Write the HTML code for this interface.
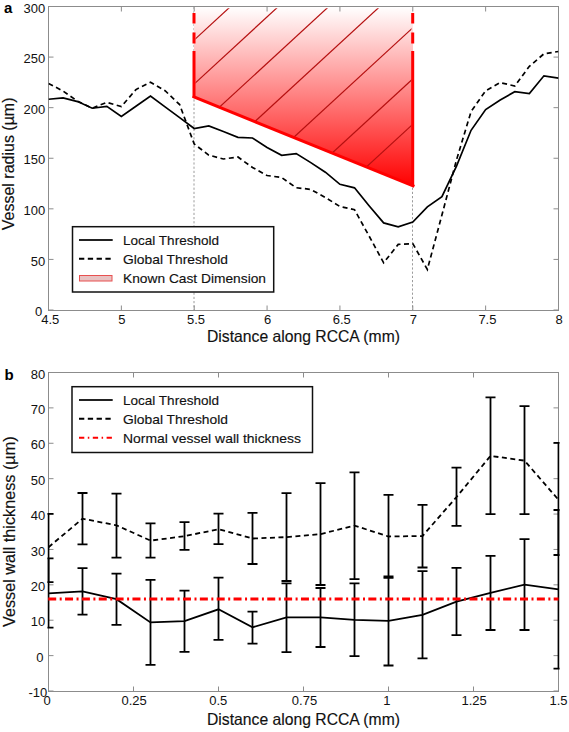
<!DOCTYPE html><html><head><meta charset="utf-8"><style>html,body{margin:0;padding:0;background:#fff;}svg{display:block;}</style></head><body>
<svg width="569" height="732" viewBox="0 0 569 732" font-family='"Liberation Sans", sans-serif'>
<defs><linearGradient id="rg" x1="0" y1="0" x2="0" y2="1" gradientUnits="objectBoundingBox"><stop offset="0" stop-color="#fff"/><stop offset="1" stop-color="#f00"/></linearGradient><clipPath id="clipA"><rect x="48.5" y="6.5" width="510.0" height="303.5"/></clipPath><clipPath id="clipB"><rect x="48.5" y="372.5" width="510.0" height="318.5"/></clipPath><clipPath id="clipE"><rect x="47.4" y="372" width="512.2" height="320"/></clipPath><clipPath id="poly"><polygon points="195.5,8.3 195.5,97 411.5,185.8 411.5,8.3"/></clipPath></defs>
<rect width="569" height="732" fill="#fff"/>
<line x1="194.0" y1="7" x2="194.0" y2="310" stroke="#9c9c9c" stroke-width="1" stroke-dasharray="2.2 2"/>
<line x1="412.5" y1="7" x2="412.5" y2="310" stroke="#9c9c9c" stroke-width="1" stroke-dasharray="2.2 2"/>
<polygon points="194,7 194,97 413,185.8 413,7" fill="url(#rg)"/>
<g clip-path="url(#poly)" stroke="#b51010" stroke-width="1.2">
<line x1="190.0" y1="43.80" x2="420.0" y2="-167.80"/>
<line x1="190.0" y1="87.80" x2="420.0" y2="-123.80"/>
<line x1="190.0" y1="134.20" x2="420.0" y2="-77.40"/>
<line x1="190.0" y1="181.20" x2="420.0" y2="-30.40"/>
<line x1="190.0" y1="232.70" x2="420.0" y2="21.10"/>
<line x1="190.0" y1="283.80" x2="420.0" y2="72.20"/>
<line x1="190.0" y1="329.20" x2="420.0" y2="117.60"/>
</g>
<line x1="194" y1="97" x2="413" y2="185.8" stroke="#f00" stroke-width="3" stroke-linecap="square"/>
<path d="M194.0 12.9V23.4M194.0 32.5V43.5M194.0 51.1V97.0" stroke="#f00" stroke-width="3"/>
<path d="M412.7 12.9V23.4M412.7 32.5V43.5M412.7 51.1V185.8" stroke="#f00" stroke-width="3"/>
<rect x="48.5" y="6.5" width="510.0" height="304.0" fill="none" stroke="#8c8c8c" stroke-width="1"/>
<line x1="48.50" y1="310.5" x2="48.50" y2="305.5" stroke="#8c8c8c"/>
<line x1="48.50" y1="6.5" x2="48.50" y2="11.5" stroke="#8c8c8c"/>
<text x="50.30" y="324" font-size="13" text-anchor="middle" fill="#111">4.5</text>
<line x1="121.36" y1="310.5" x2="121.36" y2="305.5" stroke="#8c8c8c"/>
<line x1="121.36" y1="6.5" x2="121.36" y2="11.5" stroke="#8c8c8c"/>
<text x="121.96" y="324" font-size="13" text-anchor="middle" fill="#111">5</text>
<line x1="194.21" y1="310.5" x2="194.21" y2="305.5" stroke="#8c8c8c"/>
<line x1="194.21" y1="6.5" x2="194.21" y2="11.5" stroke="#8c8c8c"/>
<text x="196.01" y="324" font-size="13" text-anchor="middle" fill="#111">5.5</text>
<line x1="267.07" y1="310.5" x2="267.07" y2="305.5" stroke="#8c8c8c"/>
<line x1="267.07" y1="6.5" x2="267.07" y2="11.5" stroke="#8c8c8c"/>
<text x="267.67" y="324" font-size="13" text-anchor="middle" fill="#111">6</text>
<line x1="339.93" y1="310.5" x2="339.93" y2="305.5" stroke="#8c8c8c"/>
<line x1="339.93" y1="6.5" x2="339.93" y2="11.5" stroke="#8c8c8c"/>
<text x="341.73" y="324" font-size="13" text-anchor="middle" fill="#111">6.5</text>
<line x1="412.79" y1="310.5" x2="412.79" y2="305.5" stroke="#8c8c8c"/>
<line x1="412.79" y1="6.5" x2="412.79" y2="11.5" stroke="#8c8c8c"/>
<text x="413.39" y="324" font-size="13" text-anchor="middle" fill="#111">7</text>
<line x1="485.64" y1="310.5" x2="485.64" y2="305.5" stroke="#8c8c8c"/>
<line x1="485.64" y1="6.5" x2="485.64" y2="11.5" stroke="#8c8c8c"/>
<text x="487.44" y="324" font-size="13" text-anchor="middle" fill="#111">7.5</text>
<line x1="558.50" y1="310.5" x2="558.50" y2="305.5" stroke="#8c8c8c"/>
<line x1="558.50" y1="6.5" x2="558.50" y2="11.5" stroke="#8c8c8c"/>
<text x="559.10" y="324" font-size="13" text-anchor="middle" fill="#111">8</text>
<line x1="48.5" y1="310.00" x2="53.5" y2="310.00" stroke="#8c8c8c"/>
<line x1="558.5" y1="310.00" x2="553.5" y2="310.00" stroke="#8c8c8c"/>
<text x="42.30" y="316.00" font-size="13" text-anchor="end" fill="#111">0</text>
<line x1="48.5" y1="259.42" x2="53.5" y2="259.42" stroke="#8c8c8c"/>
<line x1="558.5" y1="259.42" x2="553.5" y2="259.42" stroke="#8c8c8c"/>
<text x="45.20" y="266.00" font-size="13" text-anchor="end" fill="#111">50</text>
<line x1="48.5" y1="208.83" x2="53.5" y2="208.83" stroke="#8c8c8c"/>
<line x1="558.5" y1="208.83" x2="553.5" y2="208.83" stroke="#8c8c8c"/>
<text x="45.20" y="215.00" font-size="13" text-anchor="end" fill="#111">100</text>
<line x1="48.5" y1="158.25" x2="53.5" y2="158.25" stroke="#8c8c8c"/>
<line x1="558.5" y1="158.25" x2="553.5" y2="158.25" stroke="#8c8c8c"/>
<text x="45.20" y="164.00" font-size="13" text-anchor="end" fill="#111">150</text>
<line x1="48.5" y1="107.67" x2="53.5" y2="107.67" stroke="#8c8c8c"/>
<line x1="558.5" y1="107.67" x2="553.5" y2="107.67" stroke="#8c8c8c"/>
<text x="45.20" y="114.00" font-size="13" text-anchor="end" fill="#111">200</text>
<line x1="48.5" y1="57.08" x2="53.5" y2="57.08" stroke="#8c8c8c"/>
<line x1="558.5" y1="57.08" x2="553.5" y2="57.08" stroke="#8c8c8c"/>
<text x="45.20" y="63.00" font-size="13" text-anchor="end" fill="#111">250</text>
<line x1="48.5" y1="6.50" x2="53.5" y2="6.50" stroke="#8c8c8c"/>
<line x1="558.5" y1="6.50" x2="553.5" y2="6.50" stroke="#8c8c8c"/>
<text x="45.20" y="13.00" font-size="13" text-anchor="end" fill="#111">300</text>
<g clip-path="url(#clipA)" fill="none" stroke-width="1.7" stroke-linejoin="miter">
<polyline points="48.50,99.25 63.07,97.85 77.64,101.60 92.21,108.25 106.79,106.30 121.36,116.50 135.93,106.30 150.50,96.10 165.07,106.90 179.64,117.60 194.21,128.50 208.79,126.00 223.36,131.50 237.93,137.30 252.50,138.00 267.07,147.50 281.64,155.30 296.21,153.60 310.79,162.60 325.36,172.20 339.93,184.30 354.50,187.80 369.07,205.70 383.64,222.90 398.21,226.80 412.79,222.00 427.36,206.90 441.93,196.60 456.50,166.10 471.07,130.30 485.64,109.50 500.21,100.00 514.79,91.70 529.36,93.50 543.93,75.80 558.50,78.10" stroke="#000"/>
<polyline points="48.50,83.40 63.07,91.10 77.64,101.20 92.21,108.25 106.79,102.30 121.36,106.60 135.93,89.60 150.50,82.20 165.07,90.70 179.64,104.60 194.21,144.00 208.79,155.10 223.36,159.00 237.93,157.00 252.50,167.50 267.07,175.50 281.64,177.50 296.21,187.70 310.79,189.40 325.36,197.50 339.93,206.50 354.50,209.70 369.07,236.00 383.64,262.80 398.21,244.40 412.79,243.60 427.36,269.50 441.93,215.00 456.50,160.00 471.07,111.50 485.64,90.80 500.21,82.60 514.79,86.00 529.36,66.30 543.93,53.80 558.50,51.50" stroke="#000" stroke-dasharray="5 3.5"/>
</g>
<rect x="72.5" y="226.7" width="201.2" height="65.3" fill="#fff" stroke="#111" stroke-width="1.5"/>
<line x1="79" y1="240" x2="112.7" y2="240" stroke="#222" stroke-width="2"/>
<line x1="79" y1="258.7" x2="111" y2="258.7" stroke="#000" stroke-width="2" stroke-dasharray="5.3 3.5"/>
<rect x="79.5" y="275.5" width="32.5" height="5.5" fill="#e8c2c2" stroke="#e85050" stroke-width="1"/>
<text x="123" y="245.3" font-size="13.5" fill="#111" stroke="#111" stroke-width="0.15" textLength="96" lengthAdjust="spacingAndGlyphs">Local Threshold</text>
<text x="123" y="264.3" font-size="13.5" fill="#111" stroke="#111" stroke-width="0.15" textLength="105" lengthAdjust="spacingAndGlyphs">Global Threshold</text>
<text x="123" y="282.7" font-size="13.5" fill="#111" stroke="#111" stroke-width="0.15" textLength="143" lengthAdjust="spacingAndGlyphs">Known Cast Dimension</text>
<text x="4" y="12.5" font-size="15" font-weight="bold" fill="#000">a</text>
<text x="207" y="342" font-size="16.5" fill="#111" stroke="#111" stroke-width="0.15" textLength="193" lengthAdjust="spacingAndGlyphs">Distance along RCCA (mm)</text>
<text transform="translate(14.3,230.2) rotate(-90)" x="0" y="0" font-size="16.5" fill="#111" stroke="#111" stroke-width="0.15" textLength="132.7" lengthAdjust="spacingAndGlyphs">Vessel radius (µm)</text>
<rect x="48.5" y="372.5" width="510.0" height="319.0" fill="none" stroke="#8c8c8c" stroke-width="1"/>
<line x1="48.50" y1="691.5" x2="48.50" y2="686.5" stroke="#8c8c8c"/>
<line x1="48.50" y1="372.5" x2="48.50" y2="377.5" stroke="#8c8c8c"/>
<text x="47.10" y="705" font-size="13" text-anchor="middle" fill="#111">0</text>
<line x1="133.50" y1="691.5" x2="133.50" y2="686.5" stroke="#8c8c8c"/>
<line x1="133.50" y1="372.5" x2="133.50" y2="377.5" stroke="#8c8c8c"/>
<text x="134.10" y="705" font-size="13" text-anchor="middle" fill="#111">0.25</text>
<line x1="218.50" y1="691.5" x2="218.50" y2="686.5" stroke="#8c8c8c"/>
<line x1="218.50" y1="372.5" x2="218.50" y2="377.5" stroke="#8c8c8c"/>
<text x="218.30" y="705" font-size="13" text-anchor="middle" fill="#111">0.5</text>
<line x1="303.50" y1="691.5" x2="303.50" y2="686.5" stroke="#8c8c8c"/>
<line x1="303.50" y1="372.5" x2="303.50" y2="377.5" stroke="#8c8c8c"/>
<text x="304.50" y="705" font-size="13" text-anchor="middle" fill="#111">0.75</text>
<line x1="388.50" y1="691.5" x2="388.50" y2="686.5" stroke="#8c8c8c"/>
<line x1="388.50" y1="372.5" x2="388.50" y2="377.5" stroke="#8c8c8c"/>
<text x="386.80" y="705" font-size="13" text-anchor="middle" fill="#111">1</text>
<line x1="473.50" y1="691.5" x2="473.50" y2="686.5" stroke="#8c8c8c"/>
<line x1="473.50" y1="372.5" x2="473.50" y2="377.5" stroke="#8c8c8c"/>
<text x="474.10" y="705" font-size="13" text-anchor="middle" fill="#111">1.25</text>
<line x1="558.50" y1="691.5" x2="558.50" y2="686.5" stroke="#8c8c8c"/>
<line x1="558.50" y1="372.5" x2="558.50" y2="377.5" stroke="#8c8c8c"/>
<text x="558.50" y="705" font-size="13" text-anchor="middle" fill="#111">1.5</text>
<line x1="48.5" y1="691.00" x2="53.5" y2="691.00" stroke="#8c8c8c"/>
<line x1="558.5" y1="691.00" x2="553.5" y2="691.00" stroke="#8c8c8c"/>
<text x="47.30" y="697.00" font-size="13" text-anchor="end" fill="#111">-10</text>
<line x1="48.5" y1="655.61" x2="53.5" y2="655.61" stroke="#8c8c8c"/>
<line x1="558.5" y1="655.61" x2="553.5" y2="655.61" stroke="#8c8c8c"/>
<text x="43.50" y="662.00" font-size="13" text-anchor="end" fill="#111">0</text>
<line x1="48.5" y1="620.22" x2="53.5" y2="620.22" stroke="#8c8c8c"/>
<line x1="558.5" y1="620.22" x2="553.5" y2="620.22" stroke="#8c8c8c"/>
<text x="45.20" y="626.00" font-size="13" text-anchor="end" fill="#111">10</text>
<line x1="48.5" y1="584.83" x2="53.5" y2="584.83" stroke="#8c8c8c"/>
<line x1="558.5" y1="584.83" x2="553.5" y2="584.83" stroke="#8c8c8c"/>
<text x="45.20" y="591.00" font-size="13" text-anchor="end" fill="#111">20</text>
<line x1="48.5" y1="549.44" x2="53.5" y2="549.44" stroke="#8c8c8c"/>
<line x1="558.5" y1="549.44" x2="553.5" y2="549.44" stroke="#8c8c8c"/>
<text x="45.20" y="556.00" font-size="13" text-anchor="end" fill="#111">30</text>
<line x1="48.5" y1="514.06" x2="53.5" y2="514.06" stroke="#8c8c8c"/>
<line x1="558.5" y1="514.06" x2="553.5" y2="514.06" stroke="#8c8c8c"/>
<text x="45.20" y="520.00" font-size="13" text-anchor="end" fill="#111">40</text>
<line x1="48.5" y1="478.67" x2="53.5" y2="478.67" stroke="#8c8c8c"/>
<line x1="558.5" y1="478.67" x2="553.5" y2="478.67" stroke="#8c8c8c"/>
<text x="45.20" y="485.00" font-size="13" text-anchor="end" fill="#111">50</text>
<line x1="48.5" y1="443.28" x2="53.5" y2="443.28" stroke="#8c8c8c"/>
<line x1="558.5" y1="443.28" x2="553.5" y2="443.28" stroke="#8c8c8c"/>
<text x="45.20" y="449.00" font-size="13" text-anchor="end" fill="#111">60</text>
<line x1="48.5" y1="407.89" x2="53.5" y2="407.89" stroke="#8c8c8c"/>
<line x1="558.5" y1="407.89" x2="553.5" y2="407.89" stroke="#8c8c8c"/>
<text x="45.20" y="414.00" font-size="13" text-anchor="end" fill="#111">70</text>
<line x1="48.5" y1="372.50" x2="53.5" y2="372.50" stroke="#8c8c8c"/>
<line x1="558.5" y1="372.50" x2="553.5" y2="372.50" stroke="#8c8c8c"/>
<text x="45.20" y="379.00" font-size="13" text-anchor="end" fill="#111">80</text>
<g clip-path="url(#clipB)" fill="none" stroke="#000" stroke-width="1.8">
<polyline points="48.50,547.20 82.50,518.70 116.50,525.30 150.50,540.60 184.50,536.20 218.50,529.20 252.50,538.50 286.50,537.10 320.50,534.10 354.50,525.60 388.50,536.50 422.50,536.00 456.50,497.00 490.50,455.90 524.50,460.60 558.50,499.80" stroke-dasharray="5 3.5"/>
<polyline points="48.50,593.30 82.50,591.30 116.50,599.20 150.50,622.40 184.50,621.20 218.50,609.30 252.50,627.30 286.50,617.40 320.50,617.40 354.50,619.80 388.50,620.80 422.50,614.90 456.50,601.70 490.50,592.80 524.50,584.70 558.50,589.40"/>
</g><g clip-path="url(#clipE)" fill="none" stroke="#000" stroke-width="1.8">
<path d="M48.50 513.8V582.1M43.50 513.8H53.50M43.50 582.1H53.50"/>
<path d="M82.50 493.0V544.4M77.50 493.0H87.50M77.50 544.4H87.50"/>
<path d="M116.50 493.6V557.7M111.50 493.6H121.50M111.50 557.7H121.50"/>
<path d="M150.50 523.3V557.7M145.50 523.3H155.50M145.50 557.7H155.50"/>
<path d="M184.50 522.2V549.8M179.50 522.2H189.50M179.50 549.8H189.50"/>
<path d="M218.50 513.7V544.1M213.50 513.7H223.50M213.50 544.1H223.50"/>
<path d="M252.50 512.9V564.0M247.50 512.9H257.50M247.50 564.0H257.50"/>
<path d="M286.50 493.2V581.0M281.50 493.2H291.50M281.50 581.0H291.50"/>
<path d="M320.50 483.2V585.0M315.50 483.2H325.50M315.50 585.0H325.50"/>
<path d="M354.50 472.3V579.2M349.50 472.3H359.50M349.50 579.2H359.50"/>
<path d="M388.50 494.8V576.4M383.50 494.8H393.50M383.50 576.4H393.50"/>
<path d="M422.50 504.8V567.5M417.50 504.8H427.50M417.50 567.5H427.50"/>
<path d="M456.50 467.7V525.8M451.50 467.7H461.50M451.50 525.8H461.50"/>
<path d="M490.50 397.3V514.1M485.50 397.3H495.50M485.50 514.1H495.50"/>
<path d="M524.50 406.2V514.1M519.50 406.2H529.50M519.50 514.1H529.50"/>
<path d="M558.50 442.8V555.0M553.50 442.8H563.50M553.50 555.0H563.50"/>
<path d="M48.50 558.3V627.6M43.50 558.3H53.50M43.50 627.6H53.50"/>
<path d="M82.50 568.2V614.7M77.50 568.2H87.50M77.50 614.7H87.50"/>
<path d="M116.50 573.6V624.8M111.50 573.6H121.50M111.50 624.8H121.50"/>
<path d="M150.50 579.9V664.8M145.50 579.9H155.50M145.50 664.8H155.50"/>
<path d="M184.50 590.6V651.8M179.50 590.6H189.50M179.50 651.8H189.50"/>
<path d="M218.50 577.6V639.9M213.50 577.6H223.50M213.50 639.9H223.50"/>
<path d="M252.50 611.6V643.6M247.50 611.6H257.50M247.50 643.6H257.50"/>
<path d="M286.50 583.3V652.2M281.50 583.3H291.50M281.50 652.2H291.50"/>
<path d="M320.50 588.0V647.0M315.50 588.0H325.50M315.50 647.0H325.50"/>
<path d="M354.50 583.3V656.2M349.50 583.3H359.50M349.50 656.2H359.50"/>
<path d="M388.50 577.9V665.5M383.50 577.9H393.50M383.50 665.5H393.50"/>
<path d="M422.50 571.1V658.3M417.50 571.1H427.50M417.50 658.3H427.50"/>
<path d="M456.50 567.9V635.2M451.50 567.9H461.50M451.50 635.2H461.50"/>
<path d="M490.50 555.9V630.0M485.50 555.9H495.50M485.50 630.0H495.50"/>
<path d="M524.50 539.1V630.0M519.50 539.1H529.50M519.50 630.0H529.50"/>
<path d="M558.50 510.0V668.7M553.50 510.0H563.50M553.50 668.7H563.50"/>
</g>
<line x1="48.2" y1="599" x2="558.5" y2="599" stroke="#f00" stroke-width="3" stroke-dasharray="8 3.5 2 3.35"/>
<rect x="72" y="386.7" width="240.5" height="65.8" fill="#fff" stroke="#111" stroke-width="1.5"/>
<line x1="79" y1="400" x2="112.7" y2="400" stroke="#222" stroke-width="2"/>
<line x1="79" y1="418.7" x2="111" y2="418.7" stroke="#000" stroke-width="2" stroke-dasharray="5.3 3.5"/>
<line x1="79" y1="437.8" x2="112" y2="437.8" stroke="#f00" stroke-width="2" stroke-dasharray="5.3 3.5 1.5 3.5"/>
<text x="123" y="405.3" font-size="13.5" fill="#111" stroke="#111" stroke-width="0.15" textLength="96" lengthAdjust="spacingAndGlyphs">Local Threshold</text>
<text x="123" y="424.3" font-size="13.5" fill="#111" stroke="#111" stroke-width="0.15" textLength="105" lengthAdjust="spacingAndGlyphs">Global Threshold</text>
<text x="123" y="442.7" font-size="13.5" fill="#111" stroke="#111" stroke-width="0.15" textLength="178" lengthAdjust="spacingAndGlyphs">Normal vessel wall thickness</text>
<text x="4.5" y="380" font-size="15" font-weight="bold" fill="#000">b</text>
<text x="207" y="725" font-size="16.5" fill="#111" stroke="#111" stroke-width="0.15" textLength="193" lengthAdjust="spacingAndGlyphs">Distance along RCCA (mm)</text>
<text transform="translate(15.3,627) rotate(-90)" x="0" y="0" font-size="16.5" fill="#111" stroke="#111" stroke-width="0.15" textLength="190.6" lengthAdjust="spacingAndGlyphs">Vessel wall thickness (µm)</text>
</svg></body></html>
